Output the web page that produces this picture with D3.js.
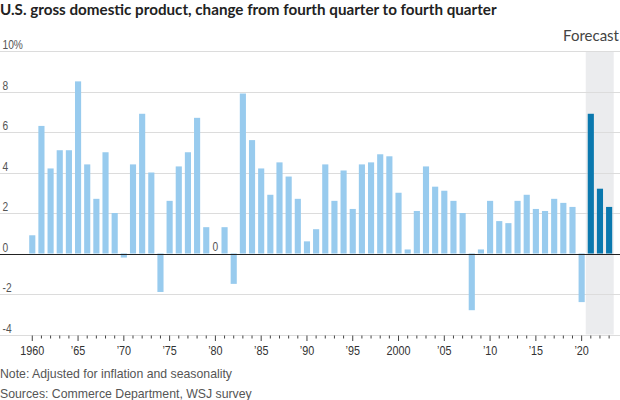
<!DOCTYPE html>
<html>
<head>
<meta charset="utf-8">
<script src="https://cdn.jsdelivr.net/npm/d3@7"></script>
<style>
  html, body { margin: 0; padding: 0; background: #fff; }
  svg { display: block; }
</style>
</head>
<body>
<svg id="chart" width="620" height="400"></svg>
<script>
const years = d3.range(1960, 2024);
const values = [
  0.9, 6.3, 4.2, 5.1, 5.1, 8.5, 4.4, 2.7, 5.0, 2.0,
  -0.2, 4.4, 6.9, 4.0, -1.9, 2.6, 4.3, 5.0, 6.7, 1.3,
  0.0, 1.3, -1.5, 7.9, 5.6, 4.2, 2.9, 4.5, 3.8, 2.7,
  0.6, 1.2, 4.4, 2.6, 4.1, 2.2, 4.4, 4.5, 4.9, 4.8,
  3.0, 0.2, 2.1, 4.3, 3.3, 3.1, 2.6, 2.0, -2.8, 0.2,
  2.6, 1.6, 1.5, 2.6, 2.9, 2.2, 2.1, 2.7, 2.5, 2.3,
  -2.4, 6.9, 3.2, 2.3
];
const forecastYears = [2021, 2022, 2023];
const yTicks = [-4, -2, 0, 2, 4, 6, 8, 10];
const xLabelYears = [1960, 1965, 1970, 1975, 1980, 1985, 1990, 1995, 2000, 2005, 2010, 2015, 2020];

const data = years.map((y, i) => ({ year: y, value: values[i], forecast: forecastYears.includes(y) }));

const W = 620, H = 400;
const svg = d3.select("#chart");
const sans = "'Liberation Sans', Arial, sans-serif";

const x = d3.scaleBand().domain(years).range([27.7, 613.7]).paddingInner(0.33).paddingOuter(0.165);
const y = d3.scaleLinear().domain([-4, 10]).range([334.5, 51]);

function narrowText(sel, px, py, sx) {
  return sel.attr("transform", `translate(${px},${py}) scale(${sx},1)`);
}

// forecast shading
const half = x.step() * x.paddingInner() / 2;
svg.append("rect")
  .attr("x", x(2021) - half - 0.5)
  .attr("y", y(10))
  .attr("width", x(2023) + x.bandwidth() + half - (x(2021) - half) + 0.5)
  .attr("height", y(-4) - y(10))
  .attr("fill", "#ebecee");

// gridlines
svg.append("g").selectAll("line").data(yTicks.filter(d => d !== 0)).join("line")
  .attr("x1", 0).attr("x2", W)
  .attr("y1", d => Math.round(y(d)) + 0.5).attr("y2", d => Math.round(y(d)) + 0.5)
  .attr("stroke", "#dcdcdc").attr("stroke-width", 1);

// y labels
svg.append("g").selectAll("text").data(yTicks).join("text")
  .each(function(d) { narrowText(d3.select(this), 2.5, Math.round(y(d)) - 2, 0.85); })
  .attr("font-family", sans).attr("font-size", 12).attr("fill", "#555")
  .text(d => d === 10 ? "10%" : d);

// bars
svg.append("g").selectAll("rect").data(data).join("rect")
  .attr("x", d => x(d.year))
  .attr("width", x.bandwidth())
  .attr("y", d => y(Math.max(0, d.value)))
  .attr("height", d => Math.abs(y(d.value) - y(0)))
  .attr("fill", d => d.forecast ? "#0a78ae" : "#98cbee");

// zero value label
narrowText(svg.append("text"), x(1980) + x.bandwidth() / 2, y(0) - 3, 0.85)
  .attr("text-anchor", "middle")
  .attr("font-family", sans).attr("font-size", 12).attr("fill", "#555")
  .text("0");

// zero line
svg.append("line")
  .attr("x1", 0).attr("x2", W)
  .attr("y1", Math.round(y(0)) + 0.5).attr("y2", Math.round(y(0)) + 0.5)
  .attr("stroke", "#222").attr("stroke-width", 1);

// x axis
const xAxis = d3.axisBottom(x).tickValues(years).tickSize(0).tickFormat(() => "");
const gx = svg.append("g").attr("transform", `translate(0,${Math.round(y(-4)) + 0.5})`).call(xAxis);
gx.select(".domain").remove();
gx.selectAll(".tick line")
  .attr("y2", d => d % 5 === 0 ? 5.5 : 3)
  .attr("stroke", "#444");
gx.selectAll(".tick text").remove();
gx.selectAll(".tick").filter(d => xLabelYears.includes(d)).append("text")
  .attr("transform", "translate(0,19.5) scale(0.9,1)")
  .attr("text-anchor", "middle")
  .attr("font-family", sans).attr("font-size", 12).attr("fill", "#333")
  .text(d => (d === 1960 || d === 2000) ? String(d) : "\u2019" + String(d).slice(2));

// title
svg.append("text")
  .attr("x", 0).attr("y", 15)
  .attr("font-family", "Lato, 'Open Sans', sans-serif").attr("font-weight", 700)
  .attr("font-size", 15.2).attr("fill", "#222")
  .text("U.S. gross domestic product, change from fourth quarter to fourth quarter");

// forecast label
svg.append("text")
  .attr("x", 619).attr("y", 41).attr("text-anchor", "end")
  .attr("font-family", "Lato, 'Open Sans', sans-serif")
  .attr("font-size", 15).attr("fill", "#444")
  .text("Forecast");

// notes
narrowText(svg.append("text"), 0, 378, 0.96)
  .attr("font-family", sans).attr("font-size", 12.8).attr("fill", "#555")
  .text("Note: Adjusted for inflation and seasonality");
narrowText(svg.append("text"), 0, 397.5, 0.96)
  .attr("font-family", sans).attr("font-size", 12.8).attr("fill", "#555")
  .text("Sources: Commerce Department, WSJ survey");
</script>
</body>
</html>
